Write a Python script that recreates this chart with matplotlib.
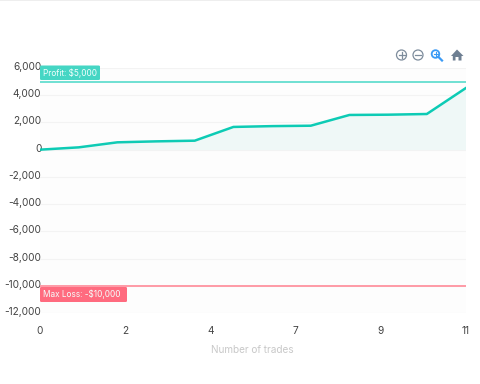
import matplotlib
matplotlib.use('Agg')
import matplotlib.pyplot as plt
from matplotlib.patches import Circle, Polygon, FancyBboxPatch, Rectangle
from matplotlib.lines import Line2D
from matplotlib.transforms import ScaledTranslation

plt.rcParams['font.family'] = ['Inter', 'DejaVu Sans']

# значения
trades = [0, 1, 2, 3, 4, 5, 6, 7, 8, 9, 10, 11]
pnl = [0, 170, 540, 610, 660, 1670, 1730, 1760, 2550, 2570, 2620, 4510]
y_ticks = [6000, 4000, 2000, 0, -2000, -4000, -6000, -8000, -10000, -12000]
x_ticks = [0, 2.2, 4.4, 6.6, 8.8, 11]
x_tick_labels = ['0', '2', '4', '7', '9', '11']
profit_level = 5000
loss_level = -10000
profit_label = 'Profit: $5,000'
loss_label = 'Max Loss: -$10,000'
x_title = 'Number of trades'

TEAL = '#00c9b1'
W, H = 480, 384

fig = plt.figure(figsize=(4.8, 3.84), dpi=100)
ax = fig.add_axes([40 / W, 1 - 313 / H, 425.5 / W, 245 / H])
ax.set_xlim(0, 11)
ax.set_ylim(-12000, 6000)
ax.set_facecolor('#fdfdfd')

ax.yaxis.grid(True, color='#f3f3f3', linewidth=0.8)
ax.set_axisbelow(True)
for s in ax.spines.values():
    s.set_visible(False)

ax.fill_between(trades, pnl, 0, color='#eff8f7', linewidth=0, zorder=1)
ax.plot(trades, pnl, color=TEAL, linewidth=1.8, alpha=0.95, solid_joinstyle='round', zorder=3)
ax.axhline(profit_level, color='#6fe0d2', linewidth=1.4, zorder=2)
ax.axhline(loss_level, color='#ff9aa6', linewidth=1.4, zorder=2)

ax.set_xticks(x_ticks)
ax.set_xticklabels(x_tick_labels)
ax.set_yticks(y_ticks)
ax.set_yticklabels([f'{v:,}' for v in y_ticks])
ax.tick_params(axis='both', length=0, labelsize=7.3, labelcolor='#444444')
ax.tick_params(axis='y', pad=-1)
ax.tick_params(axis='x', pad=9)
ax.set_xlabel(x_title, fontsize=7.2, color='#c8c8c8', labelpad=7)

# подписи оси Y в оригинале чуть выше линий сетки
up = ScaledTranslation(0, 2 / 72 * 72 / 100, fig.dpi_scale_trans)
for t in ax.get_yticklabels():
    t.set_transform(t.get_transform() + up)


# подписи уровней и кнопки рисуем в пикселях картинки
def px(x, y):
    return x / W, 1 - y / H


def label_box(x0, y0, x1, y1, color, text):
    fig.add_artist(FancyBboxPatch(px(x0, y1), (x1 - x0) / W, (y1 - y0) / H,
                                  boxstyle='round,pad=0,rounding_size=0.003',
                                  transform=fig.transFigure, facecolor=color,
                                  edgecolor='none', zorder=5))
    fig.text(*px(x0 + 3, (y0 + y1) / 2), text, color='#f4fffd', fontsize=5.9,
             va='center', ha='left', zorder=6)


label_box(40, 65.5, 100, 80, '#45d6c4', profit_label)
label_box(40, 287, 127, 302, '#ff6b7f', loss_label)

GRAY = '#7d8c9c'
BLUE = '#3b9bf5'


def circle_px(x, y, r, **kw):
    fig.add_artist(Circle((x, H - y), r, transform=None, fill=False, **kw))


def line_px(xs, ys, **kw):
    fig.add_artist(Line2D(xs, [H - v for v in ys], transform=None, **kw))


circle_px(401.5, 55, 5, edgecolor=GRAY, linewidth=0.9)
line_px([398.5, 404.5], [55, 55], color=GRAY, linewidth=0.9)
line_px([401.5, 401.5], [52, 58], color=GRAY, linewidth=0.9)
circle_px(418, 55, 5, edgecolor=GRAY, linewidth=0.9)
line_px([415, 421], [55, 55], color=GRAY, linewidth=0.9)
circle_px(435.5, 54, 3.8, edgecolor=BLUE, linewidth=1.3)
line_px([438.5, 442], [57, 60.5], color=BLUE, linewidth=1.6)
line_px([433.5, 437.5], [54, 54], color=BLUE, linewidth=0.8)
line_px([435.5, 435.5], [52, 56], color=BLUE, linewidth=0.8)
fig.add_artist(Polygon([(451, H - 56), (457, H - 49.5), (463.5, H - 56), (461.5, H - 56),
                        (461.5, H - 60.5), (458.5, H - 60.5), (458.5, H - 57),
                        (455.5, H - 57), (455.5, H - 60.5), (452.8, H - 60.5), (452.8, H - 56)],
                       closed=True, transform=None, facecolor='#6e7f92', edgecolor='none'))

# тонкая линия по верхнему краю
fig.add_artist(Rectangle((0, H - 1), W, 1, transform=None, facecolor='#eeeeee', edgecolor='none'))

fig.savefig('out.png', dpi=100)
